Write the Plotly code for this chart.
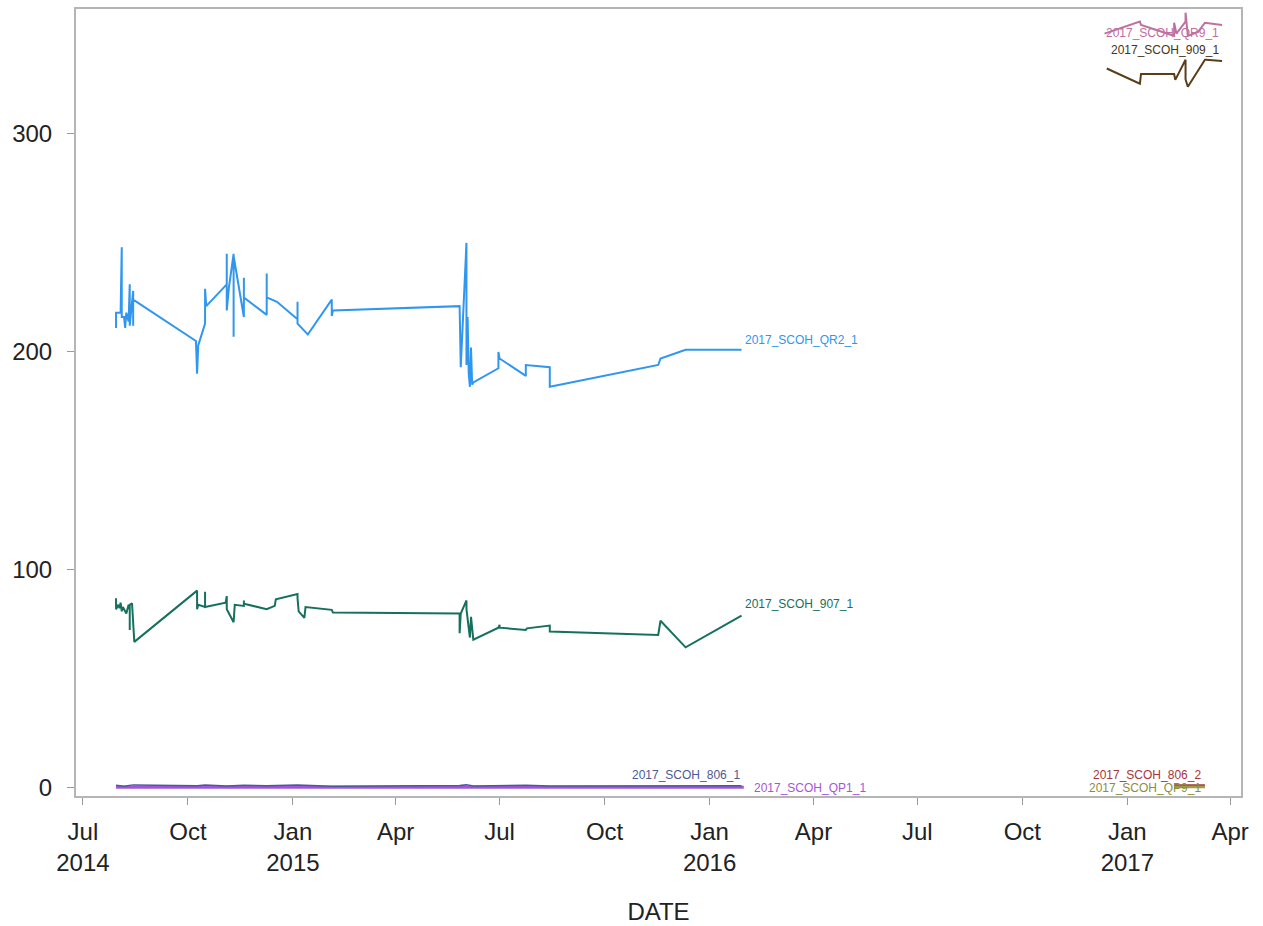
import plotly.graph_objects as go

# ---- series data (date, value) ----
qr2_1_dates = [
    "2014-07-30", "2014-07-30", "2014-08-03", "2014-08-04", "2014-08-04", "2014-08-06",
    "2014-08-07", "2014-08-08", "2014-08-10", "2014-08-11", "2014-08-11", "2014-08-13",
    "2014-08-14", "2014-08-14", "2014-08-14", "2014-10-08", "2014-10-09", "2014-10-10",
    "2014-10-16", "2014-10-16", "2014-10-17", "2014-11-04", "2014-11-04", "2014-11-04",
    "2014-11-06", "2014-11-10", "2014-11-10", "2014-11-10", "2014-11-19", "2014-11-19",
    "2014-11-19", "2014-12-09", "2014-12-09", "2014-12-09", "2014-12-18", "2015-01-05",
    "2015-01-05", "2015-01-05", "2015-01-14", "2015-02-04", "2015-02-04", "2015-02-05",
    "2015-05-27", "2015-05-28", "2015-06-02", "2015-06-02", "2015-06-03", "2015-06-04",
    "2015-06-05", "2015-06-06", "2015-06-07", "2015-06-08", "2015-06-30", "2015-06-30",
    "2015-07-01", "2015-07-24", "2015-07-24", "2015-08-14", "2015-08-14", "2015-11-17",
    "2015-11-19", "2015-12-11", "2016-01-29",
]
qr2_1_vals = [
    211, 218, 218, 248, 216, 216,
    211, 218, 214, 231, 212, 222,
    228, 212, 224, 205, 190, 203,
    213, 229, 221, 231, 245, 219,
    230, 245, 207, 244, 216, 234,
    225, 217, 236, 225, 223, 215,
    223, 213, 208, 224, 216.5, 219,
    221, 193, 250, 194, 216, 190,
    184, 202, 185, 186, 192.5, 200,
    197, 189, 194, 193, 184, 194,
    197, 201, 201,
]

s907_1_dates = [
    "2014-07-30", "2014-07-30", "2014-08-01", "2014-08-02", "2014-08-03", "2014-08-04",
    "2014-08-05", "2014-08-08", "2014-08-10", "2014-08-11", "2014-08-11", "2014-08-11",
    "2014-08-13", "2014-08-14", "2014-08-15", "2014-10-09", "2014-10-09", "2014-10-10",
    "2014-10-16", "2014-10-16", "2014-10-16", "2014-11-03", "2014-11-04", "2014-11-04",
    "2014-11-10", "2014-11-11", "2014-11-19", "2014-11-19", "2014-11-19", "2014-12-09",
    "2014-12-16", "2014-12-17", "2015-01-05", "2015-01-05", "2015-01-06", "2015-01-11",
    "2015-01-12", "2015-02-04", "2015-02-05", "2015-05-27", "2015-05-27", "2015-05-28",
    "2015-06-02", "2015-06-02", "2015-06-05", "2015-06-06", "2015-06-08", "2015-06-30",
    "2015-07-01", "2015-07-01", "2015-07-24", "2015-07-25", "2015-08-14", "2015-08-14",
    "2015-11-17", "2015-11-19", "2015-12-11", "2016-01-29",
]
s907_1_vals = [
    87, 82, 84, 82.5, 85, 81,
    83, 80, 84, 82, 72.5, 84,
    84.7, 78, 67, 90.5, 82, 84,
    83, 90, 83, 85, 88, 82,
    76, 84, 83.5, 86, 84.5, 82,
    83.5, 86.5, 89, 87, 81, 78,
    83, 81.7, 80.5, 80, 71, 80,
    86, 82, 69, 78.5, 68, 73.5,
    74.8, 73.5, 72.5, 73.2, 74.5, 71.7,
    70.2, 76.7, 64.5, 79,
]

s806_1_dates = [
    "2014-07-30", "2014-08-06", "2014-08-14", "2014-10-09", "2014-10-16", "2014-11-04",
    "2014-11-19", "2014-12-09", "2015-01-05", "2015-02-04", "2015-05-27", "2015-06-02",
    "2015-06-08", "2015-07-01", "2015-07-24", "2015-08-14", "2015-11-17", "2015-12-11",
    "2016-01-29",
]
s806_1_vals = [
    1.2, 0.8, 1.4, 1.0, 1.3, 0.9,
    1.2, 1.0, 1.3, 0.8, 1.1, 1.4,
    0.9, 1.0, 1.2, 0.9, 1.0, 1.1,
    1.0,
]

qp1_1_dates = ["2014-07-30", "2014-10-09", "2015-02-04", "2015-06-02", "2015-11-17", "2016-01-31"]
qp1_1_vals = [0.3, 0.3, 0.2, 0.3, 0.2, 0.3]

qr9_1_dates = [
    "2016-12-12", "2017-01-12", "2017-01-13", "2017-02-11", "2017-02-11", "2017-02-13",
    "2017-02-21", "2017-02-21", "2017-02-23", "2017-03-04", "2017-03-10", "2017-03-25",
]
qr9_1_vals = [346, 351.5, 350, 345, 351, 346, 351.5, 355.6, 345, 346.8, 351, 350]

s909_1_dates = [
    "2016-12-14", "2017-01-12", "2017-01-13", "2017-02-11", "2017-02-12", "2017-02-21",
    "2017-02-21", "2017-02-23", "2017-03-10", "2017-03-11", "2017-03-25",
]
s909_1_vals = [330, 323, 327.5, 327.5, 324.8, 334, 325, 321.6, 334, 334, 333.5]

s806_2_dates = ["2017-02-11", "2017-02-21", "2017-03-01", "2017-03-10"]
s806_2_vals = [1.4, 1.3, 1.4, 1.3]

qp9_1_dates = ["2017-02-11", "2017-02-21", "2017-03-01", "2017-03-10"]
qp9_1_vals = [0.6, 0.5, 0.6, 0.5]

# x-axis ticks
tick_dates = [
    "2014-07-01", "2014-10-01", "2015-01-01", "2015-04-01", "2015-07-01", "2015-10-01",
    "2016-01-01", "2016-04-01", "2016-07-01", "2016-10-01", "2017-01-01", "2017-04-01",
]
tick_text = [
    "Jul<br>2014", "Oct", "Jan<br>2015", "Apr", "Jul", "Oct",
    "Jan<br>2016", "Apr", "Jul", "Oct", "Jan<br>2017", "Apr",
]

FONT = "Liberation Sans, Arial, sans-serif"

# name, dates, values, colour, width, label position (y, anchor, xshift)
series = [
    ("2017_SCOH_QP1_1", qp1_1_dates, qp1_1_vals, "#A456D8", 3.0, (0.0, "left", 8)),
    ("2017_SCOH_806_1", s806_1_dates, s806_1_vals, "#4B5A96", 1.5, (6.0, "right", 0)),
    ("2017_SCOH_QR2_1", qr2_1_dates, qr2_1_vals, "#3196EE", 2.0, (205.5, "left", 1)),
    ("2017_SCOH_907_1", s907_1_dates, s907_1_vals, "#17705E", 2.0, (84.4, "left", 1)),
    ("2017_SCOH_QR9_1", qr9_1_dates, qr9_1_vals, "#C0709F", 2.0, (346.3, "right", -1)),
    ("2017_SCOH_909_1", s909_1_dates, s909_1_vals, "#5A3E18", 2.0, (338.5, "right", -1)),
    ("2017_SCOH_QP9_1", qp9_1_dates, qp9_1_vals, "#A0A048", 3.0, (0.0, "right", -2)),
    ("2017_SCOH_806_2", s806_2_dates, s806_2_vals, "#A8353A", 1.5, (6.0, "right", -2)),
]

label_colors = {
    "2017_SCOH_QP1_1": "#A456D8",
    "2017_SCOH_806_1": "#4B5A96",
    "2017_SCOH_QR2_1": "#3196EE",
    "2017_SCOH_907_1": "#17705E",
    "2017_SCOH_QR9_1": "#C0709F",
    "2017_SCOH_909_1": "#4A3414",
    "2017_SCOH_QP9_1": "#8E8E3A",
    "2017_SCOH_806_2": "#A8353A",
}

fig = go.Figure()
annotations = []
for name, dates, vals, color, width, (ly, anchor, xs) in series:
    fig.add_trace(go.Scatter(
        x=dates, y=vals, mode="lines", name=name,
        line=dict(color=color, width=width),
        showlegend=False,
    ))
    annotations.append(dict(
        x=dates[-1], y=ly, xref="x", yref="y", text=name, showarrow=False,
        xanchor=anchor, yanchor="middle", xshift=xs,
        font=dict(family=FONT, size=12, color=label_colors[name]),
    ))

fig.update_layout(
    width=1263, height=926,
    margin=dict(l=76, r=22, t=9, b=130),
    paper_bgcolor="white", plot_bgcolor="white",
    font=dict(family=FONT, color="#222222"),
    annotations=annotations,
    xaxis=dict(
        range=["2014-06-24 22:00", "2017-04-10 14:00"],
        tickmode="array", tickvals=tick_dates, ticktext=tick_text,
        ticks="outside", ticklen=7, tickwidth=1, tickcolor="#9a9a9a",
        showline=True, linecolor="#b5b5b5", linewidth=2, mirror=True,
        showgrid=False, zeroline=False, automargin=False,
        tickfont=dict(size=24, family=FONT, color="#222222"),
        ticklabelstandoff=6,
        title=dict(text="DATE", font=dict(size=24, family=FONT, color="#222222"), standoff=28),
    ),
    yaxis=dict(
        range=[-3.7, 357.3],
        tickmode="array", tickvals=[0, 100, 200, 300],
        ticks="outside", ticklen=7, tickwidth=1, tickcolor="#9a9a9a",
        showline=True, linecolor="#b5b5b5", linewidth=2, mirror=True,
        showgrid=False, zeroline=False, automargin=False,
        tickfont=dict(size=24, family=FONT, color="#222222"),
        ticklabelstandoff=10,
    ),
)

fig.write_html("out.html")
